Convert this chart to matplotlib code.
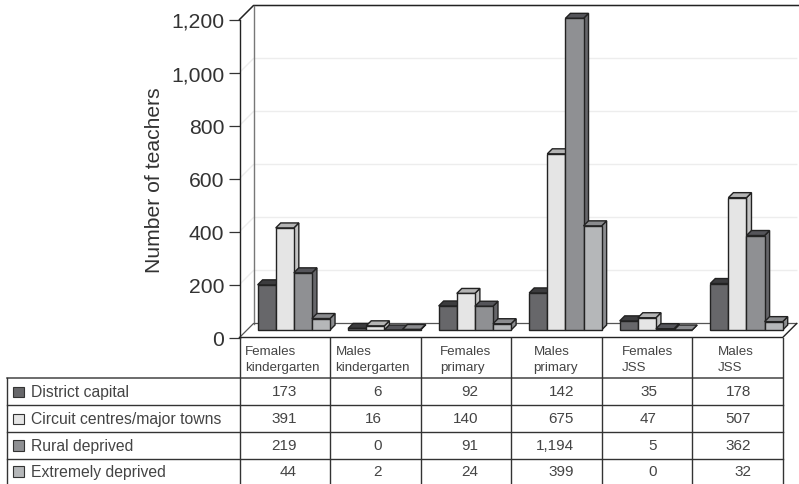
import matplotlib
matplotlib.use("Agg")
import matplotlib.pyplot as plt
from matplotlib.patches import Rectangle

plt.rcParams["font.family"] = ["Liberation Sans", "DejaVu Sans"]

# ==================================
# DATA
# ==================================
categories = ["Females\nkindergarten", "Males\nkindergarten", "Females\nprimary",
              "Males\nprimary", "Females\nJSS", "Males\nJSS"]
series_names = ["District capital", "Circuit centres/major towns",
                "Rural deprived", "Extremely deprived"]
district = [173, 6, 92, 142, 35, 178]
circuit = [391, 16, 140, 675, 47, 507]
rural = [219, 0, 91, 1194, 5, 362]
extreme = [44, 2, 24, 399, 0, 32]
yticks = [0, 200, 400, 600, 800, 1000, 1200]

# ==================================
# CONFIG
# ==================================
W, H = 799, 485
AX_L, AX_R, AX_T, AX_B = 239.5, 782.7, 20.5, 338.5   # pixels
DEPTH_PX = 14
BAR_DEPTH_PX = 5
BAR_FLOOR_PX = 7.5
BAR_SCALE = 0.985   # bars stand behind the front plane, scale is a bit smaller there
TEXT_COL = "#444444"
LINE_COL = "#222222"

# front, side, top colours per series
colours = [("#67676a", "#4c4c4e", "#3c3c3e"),
           ("#e5e5e5", "#c4c4c4", "#b4b4b4"),
           ("#8f9093", "#66666a", "#55555a"),
           ("#b5b7b9", "#8c8d90", "#8a8b8e")]

fig = plt.figure(figsize=(W/100, H/100), dpi=100)
ax = fig.add_axes([AX_L/W, 1-AX_B/H, (AX_R-AX_L)/W, (AX_B-AX_T)/H])
ax.set_xlim(0, 6)
ax.set_ylim(0, 1200)
ax.patch.set_visible(False)

px_x = 6/(AX_R-AX_L)
px_y = 1200/(AX_B-AX_T)
dx, dy = DEPTH_PX*px_x, DEPTH_PX*px_y
bx, by = BAR_DEPTH_PX*px_x, BAR_DEPTH_PX*px_y
floor = BAR_FLOOR_PX*px_y

# ==================================
# WALLS
# ==================================
for t in yticks[1:-1]:
    ax.plot([0, dx, 6+dx], [t, t+dy, t+dy], color="#ededed", lw=1, clip_on=False, zorder=1)

ax.plot([0, dx, 6.3], [1200, 1200+dy, 1200+dy], color=LINE_COL, lw=1.1, clip_on=False, zorder=2)
ax.plot([dx, dx], [dy, 1200+dy], color="#777777", lw=1, clip_on=False, zorder=2)
ax.plot([0, dx, 6+dx], [0, dy, dy], color="#555555", lw=0.9, clip_on=False, zorder=2)
ax.plot([0, 6, 6+dx], [0, 0, dy], color=LINE_COL, lw=1, clip_on=False, zorder=2)

# ==================================
# BARS
# ==================================
all_series = [district, circuit, rural, extreme]
BAR_W = 0.2

for j, values in enumerate(all_series):
    front, side, top = colours[j]
    lefts = [i + BAR_W + j*BAR_W for i in range(6)]
    heights = [v*BAR_SCALE for v in values]
    for x, v in zip(lefts, heights):
        z = 3 + j*0.1
        ax.fill([x+BAR_W, x+BAR_W+bx, x+BAR_W+bx, x+BAR_W],
                [floor, floor+by, floor+v+by, floor+v],
                facecolor=side, edgecolor=LINE_COL, lw=1, clip_on=False, zorder=z)
        ax.fill([x, x+bx, x+BAR_W+bx, x+BAR_W],
                [floor+v, floor+v+by, floor+v+by, floor+v],
                facecolor=top, edgecolor=LINE_COL, lw=1, clip_on=False, zorder=z)
    ax.bar(lefts, heights, width=BAR_W, bottom=floor, align="edge", color=front,
           edgecolor=LINE_COL, lw=1, clip_on=False, zorder=3 + j*0.1 + 0.05)

# ==================================
# AXES
# ==================================
for s in ["top", "right", "bottom"]:
    ax.spines[s].set_visible(False)
ax.spines["left"].set_color(LINE_COL)
ax.spines["left"].set_linewidth(1)
ax.set_xticks([])
ax.set_yticks(yticks)
ax.set_yticklabels([f"{t:,}" for t in yticks], fontsize=15.2, color="#333333")
ax.tick_params(axis="y", length=8, width=0.9, color="#333333", pad=3)

fig.text(155/W, 1-180/H, "Number of teachers", rotation=90, ha="center", va="center",
         fontsize=15.2, color="#333333")

# ==================================
# TABLE
# ==================================
tb = fig.add_axes([0, 0, 1, 1])
tb.set_xlim(0, W)
tb.set_ylim(H, 0)
tb.axis("off")
tb.patch.set_visible(False)

col_x = [AX_L + i*(AX_R-AX_L)/6 for i in range(7)]
row_y = [379, 406, 433, 459.5, 485]
HEADER_X = [245, 335.5, 440, 533.5, 621.5, 718]
RIGHT_X = [297, 382, 478, 574, 657, 751]

tb.plot([7, AX_R], [row_y[0]]*2, color="#444444", lw=1.1)
for y in row_y[1:-1]:
    tb.plot([7, AX_R], [y, y], color="#333333", lw=1)
tb.plot([7, 7], [row_y[0], H], color="#333333", lw=1)
for x in col_x:
    tb.plot([x, x], [AX_B, H], color="#333333", lw=1)

for x, lab in zip(HEADER_X, categories):
    tb.text(x, 360, lab, ha="left", va="center", fontsize=9.6, color=TEXT_COL, linespacing=1.4)

for r, (name, values) in enumerate(zip(series_names, all_series)):
    yc = (row_y[r] + row_y[r+1])/2
    tb.add_patch(Rectangle((13, yc-5), 10.5, 10.5, facecolor=colours[r][0],
                           edgecolor="#333333", lw=0.8))
    tb.text(31, yc, name, ha="left", va="center", fontsize=11.3, color=TEXT_COL)
    for x, v in zip(RIGHT_X, values):
        tb.text(x, yc, f"{v:,}", ha="right", va="center", fontsize=11, color=TEXT_COL)

fig.savefig("out.png", dpi=100)
